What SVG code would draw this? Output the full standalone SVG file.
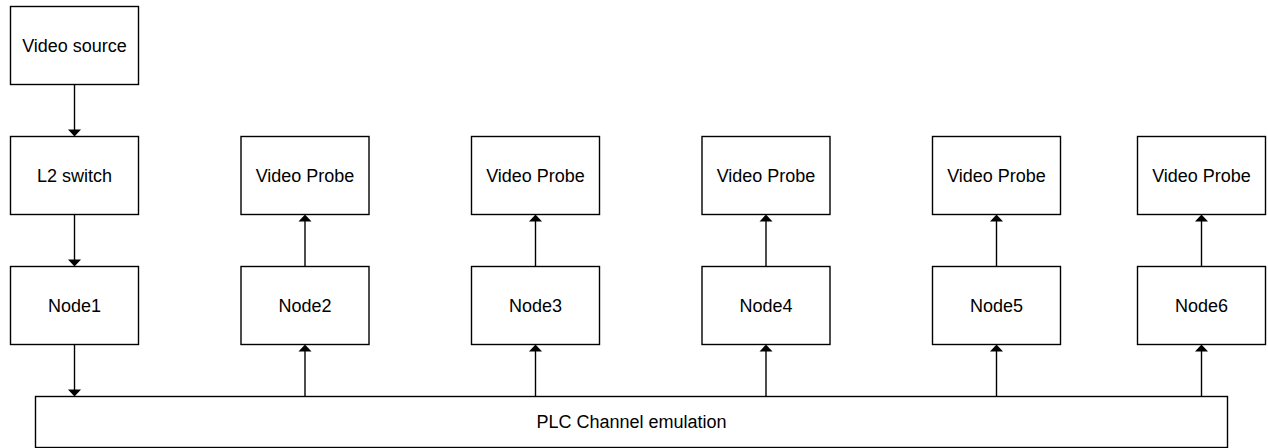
<svg xmlns="http://www.w3.org/2000/svg" width="1268" height="448" viewBox="0 0 1268 448">
<defs>
<style>
.box{fill:#fff;stroke:#000;stroke-width:1.4}
.lbl{font-family:"Liberation Sans",Arial,Helvetica,sans-serif;font-size:18px;fill:#000;text-anchor:middle;dominant-baseline:central}
.ln{stroke:#000;stroke-width:1.4}
.hd{fill:#000;stroke:none}
</style>
</defs>
<rect width="1268" height="448" fill="#fff"/>
<g id="video-source"><rect class="box" x="10.5" y="6.5" width="128" height="78"/><text class="lbl" x="74.5" y="45.5">Video source</text></g>
<g id="l2-switch"><rect class="box" x="10.5" y="136.5" width="128" height="78"/><text class="lbl" x="74.5" y="175.5">L2 switch</text></g>
<g id="node1"><rect class="box" x="10.5" y="266.5" width="128" height="78"/><text class="lbl" x="74.5" y="305.5">Node1</text></g>
<g id="probe2"><rect class="box" x="241" y="136.5" width="128" height="78"/><text class="lbl" x="305" y="175.5">Video Probe</text></g>
<g id="node2"><rect class="box" x="241" y="266.5" width="128" height="78"/><text class="lbl" x="305" y="305.5">Node2</text></g>
<g id="probe3"><rect class="box" x="471.5" y="136.5" width="128" height="78"/><text class="lbl" x="535.5" y="175.5">Video Probe</text></g>
<g id="node3"><rect class="box" x="471.5" y="266.5" width="128" height="78"/><text class="lbl" x="535.5" y="305.5">Node3</text></g>
<g id="probe4"><rect class="box" x="702" y="136.5" width="128" height="78"/><text class="lbl" x="766" y="175.5">Video Probe</text></g>
<g id="node4"><rect class="box" x="702" y="266.5" width="128" height="78"/><text class="lbl" x="766" y="305.5">Node4</text></g>
<g id="probe5"><rect class="box" x="932.5" y="136.5" width="128" height="78"/><text class="lbl" x="996.5" y="175.5">Video Probe</text></g>
<g id="node5"><rect class="box" x="932.5" y="266.5" width="128" height="78"/><text class="lbl" x="996.5" y="305.5">Node5</text></g>
<g id="probe6"><rect class="box" x="1137.5" y="136.5" width="128" height="78"/><text class="lbl" x="1201.5" y="175.5">Video Probe</text></g>
<g id="node6"><rect class="box" x="1137.5" y="266.5" width="128" height="78"/><text class="lbl" x="1201.5" y="305.5">Node6</text></g>
<g id="plc"><rect class="box" x="35.5" y="396.5" width="1192" height="51"/><text class="lbl" x="631.5" y="421.5">PLC Channel emulation</text></g>
<g id="connectors">
<line class="ln" x1="74.5" y1="84.5" x2="74.5" y2="130"/><polygon class="hd" points="68,129.5 81,129.5 74.5,136.5"/>
<line class="ln" x1="74.5" y1="214.5" x2="74.5" y2="260"/><polygon class="hd" points="68,259.5 81,259.5 74.5,266.5"/>
<line class="ln" x1="74.5" y1="344.5" x2="74.5" y2="390"/><polygon class="hd" points="68,389.5 81,389.5 74.5,396.5"/>
<line class="ln" x1="305" y1="396.5" x2="305" y2="351"/><polygon class="hd" points="298.5,351.5 311.5,351.5 305,344.5"/>
<line class="ln" x1="305" y1="266.5" x2="305" y2="221"/><polygon class="hd" points="298.5,221.5 311.5,221.5 305,214.5"/>
<line class="ln" x1="535.5" y1="396.5" x2="535.5" y2="351"/><polygon class="hd" points="529,351.5 542,351.5 535.5,344.5"/>
<line class="ln" x1="535.5" y1="266.5" x2="535.5" y2="221"/><polygon class="hd" points="529,221.5 542,221.5 535.5,214.5"/>
<line class="ln" x1="766" y1="396.5" x2="766" y2="351"/><polygon class="hd" points="759.5,351.5 772.5,351.5 766,344.5"/>
<line class="ln" x1="766" y1="266.5" x2="766" y2="221"/><polygon class="hd" points="759.5,221.5 772.5,221.5 766,214.5"/>
<line class="ln" x1="996.5" y1="396.5" x2="996.5" y2="351"/><polygon class="hd" points="990,351.5 1003,351.5 996.5,344.5"/>
<line class="ln" x1="996.5" y1="266.5" x2="996.5" y2="221"/><polygon class="hd" points="990,221.5 1003,221.5 996.5,214.5"/>
<line class="ln" x1="1201.5" y1="396.5" x2="1201.5" y2="351"/><polygon class="hd" points="1195,351.5 1208,351.5 1201.5,344.5"/>
<line class="ln" x1="1201.5" y1="266.5" x2="1201.5" y2="221"/><polygon class="hd" points="1195,221.5 1208,221.5 1201.5,214.5"/>
</g>
</svg>
